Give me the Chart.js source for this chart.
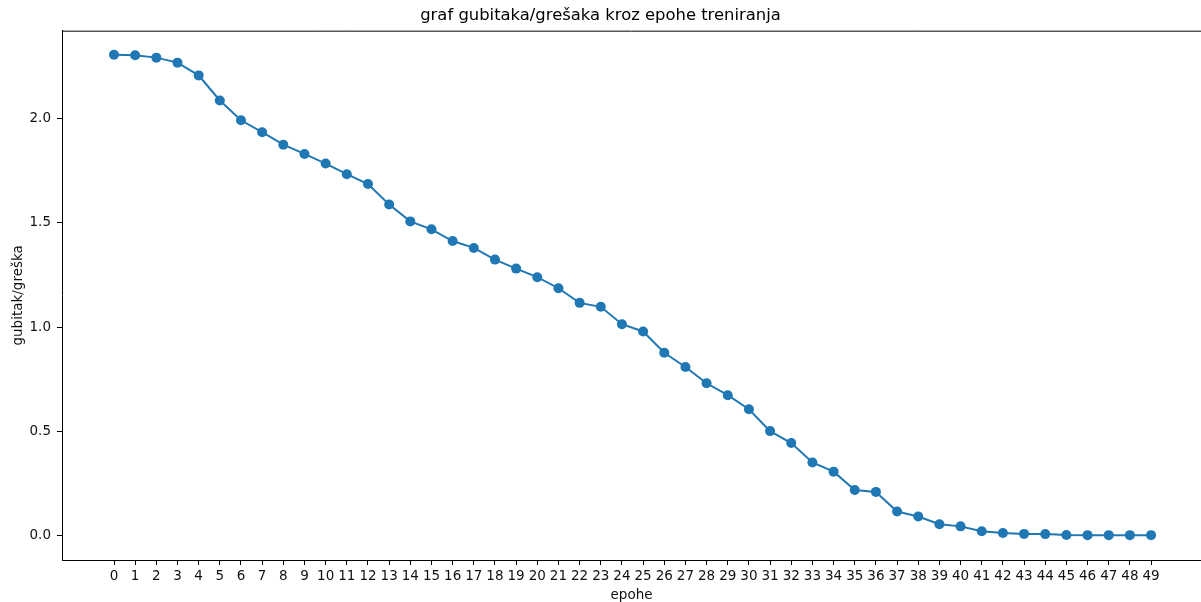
<!DOCTYPE html>
<html>
<head>
<meta charset="utf-8">
<script src="https://cdn.jsdelivr.net/npm/chart.js@4"></script>
<style>
  html, body { margin: 0; padding: 0; background: #fff; }
  #wrap { width: 1201px; height: 602px; }
</style>
</head>
<body>
<div id="wrap"><canvas id="lossChart" width="1201" height="602"></canvas></div>
<script>
    // loss per epoch
    const epochs = [...Array(50).keys()];
    const losses = [
        2.304, 2.301, 2.290, 2.266, 2.205, 2.085, 1.990, 1.933, 1.873, 1.829,
        1.783, 1.732, 1.685, 1.587, 1.506, 1.468, 1.412, 1.379, 1.323, 1.280,
        1.239, 1.186, 1.116, 1.097, 1.014, 0.979, 0.877, 0.809, 0.731, 0.674,
        0.607, 0.502, 0.445, 0.352, 0.308, 0.220, 0.211, 0.117, 0.093, 0.056,
        0.046, 0.023, 0.014, 0.010, 0.009, 0.005, 0.004, 0.004, 0.004, 0.004
    ];
    const yTicks = [0.0, 0.5, 1.0, 1.5, 2.0];

    const points = epochs.map((e, i) => ({ x: e, y: losses[i] }));
    const blue = '#1f77b4';
    const font = 'DejaVu Sans';

    // top spine (right spine falls outside the picture)
    const topSpine = {
        id: 'topSpine',
        afterDraw(chart) {
            const { ctx, chartArea: a } = chart;
            ctx.save();
            ctx.strokeStyle = '#000';
            ctx.lineWidth = 1;
            ctx.beginPath();
            ctx.moveTo(a.left, a.top + 0.5);
            ctx.lineTo(chart.width, a.top + 0.5);
            ctx.stroke();
            ctx.restore();
        }
    };

    new Chart(document.getElementById('lossChart'), {
        type: 'line',
        data: {
            datasets: [{
                data: points,
                borderColor: blue,
                backgroundColor: blue,
                borderWidth: 2,
                pointRadius: 5,
                pointHoverRadius: 5,
                pointBorderWidth: 0,
                tension: 0,
                clip: false
            }]
        },
        options: {
            responsive: false,
            animation: false,
            events: [],
            layout: { padding: 0, autoPadding: false },
            plugins: {
                legend: { display: false },
                tooltip: { enabled: false },
                title: {
                    display: true,
                    text: 'graf gubitaka/grešaka kroz epohe treniranja',
                    color: '#000',
                    font: { family: font, size: 16.4, weight: 'normal' },
                    padding: { top: 6, bottom: 5 }
                }
            },
            scales: {
                x: {
                    type: 'linear',
                    min: -2.457,
                    max: 51.36,
                    afterBuildTicks: s => { s.ticks = epochs.map(v => ({ value: v })); },
                    afterFit: s => { s.height = 42; s.paddingLeft = 0; s.paddingRight = 0; },
                    grid: { drawOnChartArea: false, tickLength: 5, color: '#000' },
                    border: { color: '#000' },
                    ticks: {
                        color: '#111',
                        font: { family: font, size: 13.5 },
                        padding: 3,
                        maxRotation: 0,
                        autoSkip: false
                    },
                    title: {
                        display: true,
                        text: 'epohe',
                        color: '#111',
                        font: { family: font, size: 13.5 },
                        padding: { top: 0, bottom: -2 }
                    }
                },
                y: {
                    min: -0.115,
                    max: 2.419,
                    afterBuildTicks: s => { s.ticks = yTicks.map(v => ({ value: v })); },
                    afterFit: s => { s.width = 62; s.paddingTop = 0; s.paddingBottom = 0; },
                    grid: { drawOnChartArea: false, tickLength: 5, color: '#000' },
                    border: { color: '#000' },
                    ticks: {
                        color: '#111',
                        font: { family: font, size: 13.5 },
                        padding: 6,
                        callback: v => v.toFixed(1)
                    },
                    title: {
                        display: true,
                        text: 'gubitak/greška',
                        color: '#111',
                        font: { family: font, size: 13.5 },
                        padding: { top: 10, bottom: 0 }
                    }
                }
            }
        },
        plugins: [topSpine]
    });
</script>
</body>
</html>
